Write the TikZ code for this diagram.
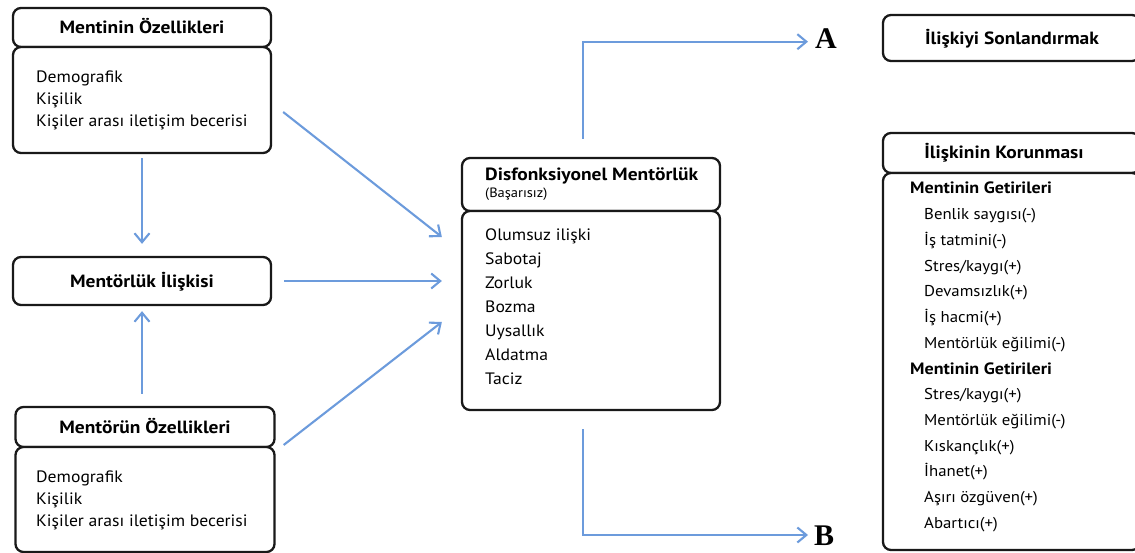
\documentclass[tikz,border=0pt]{standalone}
\usepackage{fontspec}
\setmainfont[FakeStretch=1.07]{PT Sans}
\newfontfamily\headfont[FakeStretch=1.1]{PT Sans}
\newfontfamily\letterfont{Liberation Serif}
\usetikzlibrary{arrows.meta,calc}
\definecolor{flowblue}{RGB}{108,155,220}
\definecolor{edge}{RGB}{25,25,25}

\begin{document}
\begin{tikzpicture}[x=1pt,y=-1pt,
  box/.style={draw=edge, line width=2.3pt, rounded corners=8pt, inner sep=0pt, fill=white},
  title/.style={font=\headfont\bfseries\fontsize{17.7}{20}\selectfont, text height=12.4pt, text depth=0pt},
  item/.style={font=\fontsize{16.5}{20}\selectfont, anchor=base west, inner sep=0pt},
  rightitem/.style={item, font=\fontsize{15.7}{20}\selectfont},
  subhead/.style={font=\headfont\bfseries\fontsize{16.4}{20}\selectfont, anchor=base west, inner sep=0pt},
  letter/.style={font=\letterfont\bfseries\fontsize{30}{30}\selectfont, inner sep=0pt, text height=20pt, text depth=0pt, anchor=west},
  flow/.style={draw=flowblue, line width=2.1pt, -{Straight Barb[length=9pt,width=15pt]}},
]
\useasboundingbox (0,0) rectangle (1135,553);
\clip (0,0) rectangle (1135,553);

% --- mentee characteristics
\node[box, title, minimum width=258pt, minimum height=39pt] (mhead) at (142,27.5) {Mentinin Özellikleri};
\node[box, minimum width=258pt, minimum height=106pt] (mbody) at (142,100) {};
\foreach \t [count=\i] in {Demografik, Kişilik, Kişiler arası iletişim becerisi}
  \node[item] (mitem\i) at (36,60.5+22*\i) {\t};

% --- mentoring relationship
\node[box, title, minimum width=258pt, minimum height=48pt] (rel) at (142,281) {Mentörlük İlişkisi};

% --- mentor characteristics
\node[box, title, minimum width=259pt, minimum height=40pt] (thead) at (145,427) {Mentörün Özellikleri};
\node[box, minimum width=259pt, minimum height=105pt] (tbody) at (145,499.5) {};
\foreach \t [count=\i] in {Demografik, Kişilik, Kişiler arası iletişim becerisi}
  \node[item] (titem\i) at (36,460+22*\i) {\t};

% --- dysfunctional mentoring
\node[box, minimum width=258pt, minimum height=53pt] (dhead) at (591,184.5) {};
\node[box, minimum width=258pt, minimum height=199pt] (dbody) at (591,310.5) {};
\node[subhead, font=\headfont\bfseries\fontsize{17.7}{20}\selectfont] (dtitle) at (485,180.7) {Disfonksiyonel Mentörlük};
\node[item, font=\fontsize{13.5}{15}\selectfont] (dnote) at (485,198) {(Başarısız)};
\foreach \t [count=\i] in {Olumsuz ilişki, Sabotaj, Zorluk, Bozma, Uysallık, Aldatma, Taciz}
  \node[item] (ditem\i) at (485,216.7+24*\i) {\t};

% --- outcomes
\node[box, minimum width=257pt, minimum height=46pt] (endbox) at (1011.5,38) {};
\node[title, inner sep=0pt] (endtitle) at (1012,38) {İlişkiyi Sonlandırmak};

\node[box, minimum width=257pt, minimum height=40pt] (khead) at (1011.5,153) {};
\node[title, inner sep=0pt] (ktitle) at (1004,152) {İlişkinin Korunması};
\node[box, minimum width=257pt, minimum height=377pt] (kbody) at (1011.5,361.5) {};

\node[subhead] (g1) at (910,194) {Mentinin Getirileri};
\foreach \t [count=\i] in {Benlik saygısı(-), İş tatmini(-), Stres/kaygı(+), Devamsızlık(+), İş hacmi(+), Mentörlük eğilimi(-)}
  \node[rightitem] (ga\i) at (924,194+25.73*\i) {\t};
\node[subhead] (g2) at (910,374) {Mentinin Getirileri};
\foreach \t [count=\i] in {Stres/kaygı(+), Mentörlük eğilimi(-), Kıskançlık(+), İhanet(+), Aşırı özgüven(+), Abartıcı(+)}
  \node[rightitem] (gb\i) at (924,374+25.73*\i) {\t};

% --- branch labels
\node[letter] (labA) at (815,39) {A};
\node[letter] (labB) at (814,535) {B};

% --- connectors
\draw[flow] ($(mbody.east)+(11,12)$) -- ($(dbody.west)+(-19,-73.5)$);
\draw[flow, shorten <=12pt, shorten >=19pt] (rel.east) -- (rel.east -| dbody.west);
\draw[flow] ($(thead.east)+(8,18)$) -- ($(dbody.west)+(-19,11.5)$);
\draw[flow, shorten <=4pt, shorten >=12pt] (mbody.south) -- (rel.north);
\draw[flow, shorten <=12pt, shorten >=5pt] (thead.north -| rel.south) -- (rel.south);
\draw[flow, shorten >=7pt] ($(dhead.north)+(-8,-18)$) |- ($(labA.west)+(0,2.7)$);
\draw[flow, shorten >=6pt] ($(dbody.south)+(-8,18)$) |- (labB.west);
\end{tikzpicture}
\end{document}
